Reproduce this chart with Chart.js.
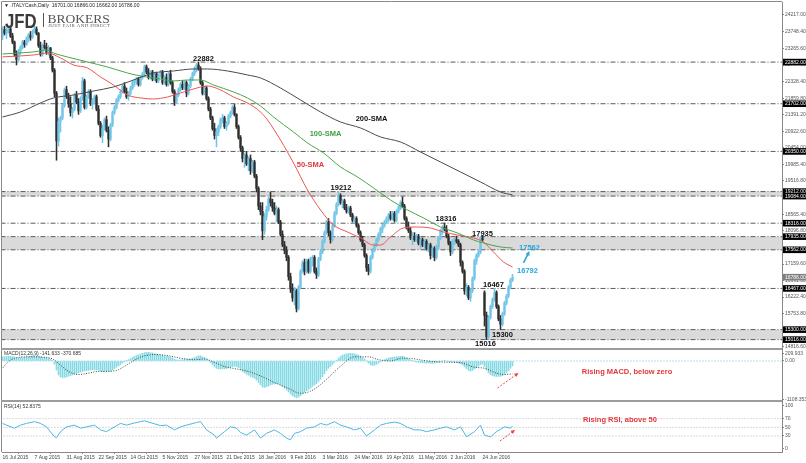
<!DOCTYPE html>
<html><head><meta charset="utf-8">
<script src="https://cdn.jsdelivr.net/npm/chart.js@4.4.1/dist/chart.umd.min.js"></script>
<style>html,body{margin:0;padding:0;background:#fff;overflow:hidden}canvas{display:block}</style>
</head><body><canvas id="c" width="806" height="463"></canvas>
<script>
// ---------- DATA ----------
const dateLabels = ['16 Jul 2015','7 Aug 2015','31 Aug 2015','22 Sep 2015','14 Oct 2015','5 Nov 2015','27 Nov 2015','21 Dec 2015','18 Jan 2016','9 Feb 2016','3 Mar 2016','24 Mar 2016','19 Apr 2016','11 May 2016','2 Jun 2016','24 Jun 2016'];
const dateTickIdx = [0,16,32,48,64,80,96,112,128,144,160,176,192,208,224,240];

const opens = [23600,23800,23700,23780,23820,23620,23450,23100,22950,23200,23300,23450,23380,23550,23650,23580,23750,23820,23700,23350,23100,23350,23300,23150,23280,23000,22650,22000,20650,21200,21300,21650,22100,21900,21700,21450,21550,21950,21750,21500,21850,22350,21600,21900,22050,21700,21800,21900,21550,21150,20800,21000,21250,20950,20700,21100,21450,21600,21800,21900,22050,22200,22050,21900,22000,22150,22300,22350,22400,22250,22450,22550,22750,22600,22450,22600,22400,22550,22350,22500,22600,22300,22450,22250,22550,22300,22050,21750,21950,22100,22250,22150,22300,22000,22200,22400,22550,22700,22800,22700,22300,22000,22150,21850,21550,21300,21000,20800,20900,21050,21250,21300,21050,21150,21350,21450,21600,21400,21050,20750,20450,20150,20250,20000,20150,19800,20050,19650,19300,18800,18650,18100,18500,18700,19000,18900,18750,18600,18700,18350,18000,17700,17550,17350,16800,16450,16200,16400,15900,16500,16950,17200,16950,17250,16950,17300,17350,16950,16850,17300,17500,17800,18050,18350,18050,17850,18250,18600,18850,19100,18900,18950,18750,18650,18750,18550,18400,18450,18250,18050,17850,17700,17400,17050,16950,17350,17550,17700,17850,18000,18150,18250,18350,18450,18550,18450,18600,18400,18650,18750,18900,18800,18450,18200,18100,17900,17950,17850,17950,17750,17850,17700,17800,17600,17700,17400,17600,17350,17650,17900,18100,18200,18150,17950,17750,17500,17800,17850,17800,17700,17200,16950,16400,16500,16200,16400,16750,17250,17400,17500,17900,16350,15700,15100,15650,15950,16150,16350,15950,15600,15450,15750,16050,16250,16500,16701];
const highs = [23880,23900,23850,23900,23870,23700,23480,23200,23250,23350,23500,23500,23600,23700,23750,23800,23900,23880,23720,23450,23400,23500,23420,23350,23300,23050,22700,22050,21300,21350,21700,22150,22200,22000,21900,21600,22000,22050,21850,21900,22450,22400,21950,22100,22100,21850,21950,21950,21650,21200,21100,21300,21350,21050,21150,21500,21650,21850,21950,22100,22250,22300,22150,22050,22200,22350,22400,22450,22450,22500,22600,22800,22800,22700,22650,22650,22600,22600,22550,22650,22650,22500,22550,22600,22650,22350,22100,22000,22150,22300,22350,22350,22350,22250,22450,22600,22750,22850,22882,22750,22350,22200,22200,21900,21600,21350,21150,21000,21100,21300,21400,21350,21200,21400,21500,21650,21680,21420,21100,20800,20500,20300,20350,20200,20250,20100,20100,19700,19350,18900,18900,18600,18800,19050,19200,19000,18900,18800,18750,18400,18100,17800,17650,17400,16900,16600,16500,16450,16550,17000,17250,17300,17300,17300,17350,17400,17400,17050,17350,17550,17850,18100,18400,18450,18100,18300,18650,18900,19212,19150,19000,19000,18850,18800,18800,18600,18500,18500,18300,18100,17950,17750,17450,17150,17400,17600,17750,17900,18050,18200,18300,18400,18500,18600,18650,18650,18650,18700,18800,18950,19060,18850,18500,18350,18200,18050,18050,18000,18000,17900,17900,17850,17850,17750,17750,17650,17650,17700,17950,18150,18250,18320,18250,18000,17800,17850,17900,17950,17850,17750,17250,17000,16600,16550,16450,16800,17300,17450,17550,17935,17950,16400,15800,15700,16000,16200,16467,16400,16000,15700,15800,16100,16300,16550,16750,16866];
const lows = [23520,23650,23550,23700,23580,23400,23050,22800,22900,23100,23250,23300,23350,23450,23500,23550,23700,23650,23300,23050,23050,23250,23100,23080,22950,22600,21900,20100,20500,20900,21250,21600,21850,21600,21350,21300,21500,21700,21400,21450,21800,21550,21550,21850,21650,21550,21700,21500,21100,20750,20600,20950,20900,20480,20650,21050,21400,21550,21750,21850,22000,22000,21850,21800,21950,22100,22200,22250,22200,22200,22400,22500,22550,22400,22400,22350,22350,22300,22300,22450,22250,22250,22200,22200,22250,22000,21650,21700,21900,22050,22100,22100,21900,21950,22150,22350,22500,22600,22650,22250,21950,21950,21800,21500,21250,20950,20700,20480,20800,21000,21150,21000,20950,21100,21300,21400,21350,21000,20700,20350,20050,19900,19950,19800,19700,19750,19600,19200,18700,18550,17850,18000,18400,18650,18800,18650,18550,18350,18300,17950,17650,17450,17250,16700,16350,16100,16000,15800,15850,16450,16900,16850,16900,16900,16900,17100,16900,16750,16800,17250,17450,17750,18000,17950,17750,17800,18200,18550,18800,18850,18750,18700,18600,18600,18500,18350,18300,18200,18000,17800,17650,17350,16950,16850,16900,17300,17500,17650,17800,17950,18050,18200,18300,18350,18400,18400,18350,18350,18600,18700,18750,18400,18150,18050,17850,17700,17800,17800,17700,17600,17650,17600,17550,17500,17300,17350,17250,17300,17600,17850,18000,18100,17900,17700,17400,17450,17700,17750,17650,17100,16900,16300,16250,16150,16100,16350,16700,17150,17350,17450,17800,15400,15016,15050,15600,15900,16100,15900,15550,15300,15400,15700,16000,16200,16450,16662];
const closes = [23800,23700,23780,23820,23620,23450,23100,22950,23200,23300,23450,23380,23550,23650,23580,23750,23820,23700,23350,23100,23350,23300,23150,23280,23000,22650,22000,20650,21200,21300,21650,22100,21900,21700,21450,21550,21950,21750,21500,21850,22350,21600,21900,22050,21700,21800,21900,21550,21150,20800,21000,21250,20950,20700,21100,21450,21600,21800,21900,22050,22200,22050,21900,22000,22150,22300,22350,22400,22250,22450,22550,22750,22600,22450,22600,22400,22550,22350,22500,22600,22300,22450,22250,22550,22300,22050,21750,21950,22100,22250,22150,22300,22000,22200,22400,22550,22700,22800,22700,22300,22000,22150,21850,21550,21300,21000,20800,20900,21050,21250,21300,21050,21150,21350,21450,21600,21400,21050,20750,20450,20150,20250,20000,20150,19800,20050,19650,19300,18800,18650,18100,18500,18700,19000,18900,18750,18600,18700,18350,18000,17700,17550,17350,16800,16450,16200,16400,15900,16500,16950,17200,16950,17250,16950,17300,17350,16950,16850,17300,17500,17800,18050,18350,18050,17850,18250,18600,18850,19100,18900,18950,18750,18650,18750,18550,18400,18450,18250,18050,17850,17700,17400,17050,16950,17350,17550,17700,17850,18000,18150,18250,18350,18450,18550,18450,18600,18400,18650,18750,18900,18800,18450,18200,18100,17900,17950,17850,17950,17750,17850,17700,17800,17600,17700,17400,17600,17350,17650,17900,18100,18200,18150,17950,17750,17500,17800,17850,17800,17700,17200,16950,16400,16500,16200,16400,16750,17250,17400,17500,17900,17850,15700,15100,15650,15950,16150,16350,15950,15600,15450,15750,16050,16250,16500,16701,16786];

const sma50Idx  = [0,15.5,22.5,29,35.5,42.5,49,55.5,62.5,69,75.5,82.5,89,95.5,102.5,109,115.5,122.5,129,132.5,139,145.5,152.5,159,165.5,172.5,179,185.5,189,194,200.5,207.5,214,220.5,227.5,235.5,240.5,245.5,250.5,255];
const sma50     = [23030,23083,23140,22998,22800,22715,22460,22233,21950,21865,21836,21893,22006,22120,22205,22092,21893,21723,21468,21241,20675,20023,19258,18691,18265,18067,17897,17698,17698,17925,18180,18209,18180,18067,17982,17897,17783,17500,17217,17075];
const sma100Idx = [0,15.5,22.5,25.5,32.5,42.5,52.5,62.5,69,79,85.5,92.5,99,105.5,115.5,122.5,129,135.5,145.5,152.5,160.5,169,177.5,185.5,194,202.5,210.5,219,227.5,235.5,240.5,249,255];
const sma100    = [23112,23170,23225,23140,23027,22885,22743,22573,22488,22403,22347,22375,22375,22233,22035,21865,21638,21326,20901,20590,20306,19910,19626,19315,18974,18691,18464,18209,18039,17840,17755,17642,17613];
const sma200Idx = [0,9,19,25.5,35.5,45.5,55.5,65.5,75.5,85.5,95.5,102.5,112.5,122.5,129,139,149,159,169,179,189,199,209,219,229,239,249,255];
const sma200    = [21326,21468,21723,21865,21950,22063,22177,22375,22573,22630,22687,22687,22630,22517,22432,22148,21808,21468,21185,21015,20760,20618,20334,20051,19768,19485,19201,19116];

const macdMain = [120,125,130,135,135,130,115,95,90,95,100,110,120,130,140,150,155,150,140,125,110,100,90,80,60,
 20,-90,-260,
 -400,-460,-480,-475,-460,
 -440,-420,-400,-380,-360,-340,-320,-300,
 -290,-280,-270,-260,-250,-245,-250,-265,
 -285,-300,-300,-290,-300,-290,-260,
 -220,-180,-140,-100,-60,-20,10,
 40,70,100,130,160,180,200,220,240,250,
 250,240,230,215,200,185,175,165,150,135,125,110,85,
 50,30,25,
 35,40,50,55,50,60,80,100,125,150,150,
 120,100,60,10,-50,-110,-170,-210,-230,
 -230,-225,-225,-215,-200,-185,-160,-150,
 -160,-190,-240,-300,-340,-380,-410,-450,-470,-500,-550,-620,-680,
 -750,-760,-740,-720,-690,-670,-660,-650,-660,-690,-730,-780,-830,
 -890,-950,-1000,-1030,-1060,-1040,
 -1000,-950,-900,-860,-820,-780,-730,-690,-650,-590,-520,-450,-370,-280,
 -210,-160,-100,-40,20,80,130,
 170,190,205,215,220,215,205,190,170,140,
 100,55,0,-60,-110,-130,-120,-95,-60,-25,
 10,40,65,85,100,110,115,120,125,135,
 140,120,90,60,30,5,-20,
 -30,-40,-50,-55,-60,-60,-60,-65,-70,-60,-50,-30,-10,
 0,5,0,-10,-30,-35,-35,-40,-50,-80,-110,
 -170,-220,-270,-290,-270,-230,-190,-150,-100,
 -90,-160,-260,-340,-390,-420,-440,-445,-445,-440,-420,-390,-340,-280,-210,-142];
const sigIdx = [0,3,6,12,20,25,29,33,38,43,48,53,58,63,69,76,83,89,96,101,106,111,116,123,129,136,143,149,154,159,164,169,176,183,188,194,200,205,210,219,229,236,241,247,251,255];
const macdSignal = [-205,-20,75,120,110,60,-120,-300,-390,-350,-300,-300,-250,-80,110,186,150,80,40,60,-40,-160,-220,-300,-430,-620,-790,-930,-870,-680,-420,-150,120,120,40,0,80,70,20,-30,-50,-180,-210,-350,-390,-371];

const rsiIdx = [0,2,6,9,12,16,19,22,26,27,29,32,36,39,42,46,49,52,56,59,62,66,69,71,76,79,82,86,89,92,97,99,102,106,107,111,114,117,119,122,126,129,132,136,139,142,144,146,149,152,156,159,162,166,169,172,176,179,182,186,189,192,196,199,202,206,209,212,216,219,222,226,229,232,236,239,241,244,247,251,254,255];
const rsiVals = [59,55,48,55,59,63,59,51,28,26,40,51,55,48,51,55,44,40,51,59,55,60,63,65,58,54,55,44,51,55,61,63,44,32,25,40,51,48,38,32,44,25,36,44,36,25,21,36,40,48,51,59,55,63,55,51,44,48,30,44,55,59,62,59,51,44,44,40,44,48,51,44,51,28,40,55,32,28,40,51,48,52.8];

const priceTicks = [24217.00,23748.40,23265.60,22797.00,22328.40,21859.80,21391.20,20922.60,20454.00,19985.40,19516.80,18565.40,18096.80,17159.60,16691.00,16222.40,15753.80,14816.60];
const macdTicks = [209.933, 0, -1108.353];
const macdTickLabels = ['209.933','0.00','-1108.353'];
const rsiTicks = [100,70,50,30,0];
const rsiLevels = [70,50,30];
const levelValues = [22882,21702,20350,19212,19084,18316,17935,17562,16467,15300,15016];
const bandPairs = [[19084,19212],[17562,17935],[15016,15300]];
const lastPrice = 16786;

// ---------- ANNOTATION CONFIG (positions in data units) ----------
const priceNotes = [
  {t:'22882', i:100.5, v:22970, c:'#111'},
  {t:'200-SMA', i:184.5, v:21270, c:'#111'},
  {t:'100-SMA', i:161.5, v:20845, c:'#3f9f3f'},
  {t:'50-SMA', i:154, v:19966, c:'#e0393e'},
  {t:'19212', i:169.25, v:19314, c:'#111'},
  {t:'18316', i:221.75, v:18436, c:'#111'},
  {t:'17935', i:240, v:18010, c:'#111'},
  {t:'17562', i:263.5, v:17628, c:'#2aa5de'},
  {t:'16792', i:262.5, v:16962, c:'#2aa5de'},
  {t:'16467', i:245.5, v:16565, c:'#111'},
  {t:'15300', i:250, v:15162, c:'#111'},
  {t:'15016', i:241.5, v:14907, c:'#111'}
];
const blueArrow = {i1:260.5, v1:17189, i2:263.5, v2:17529};
const macdNote = {t:'Rising MACD, below zero', i:312.25, v:-317};
const macdArrow = {i1:247.5, v1:-778, i2:258, v2:-346};
const rsiNote = {t:'Rising RSI, above 50', i:308.75, v:67};
const rsiArrow = {i1:248.75, v1:18.4, i2:256.25, v2:43.8};

// ---------- CHART ----------
const fam = '"Liberation Sans", Arial, Helvetica, sans-serif';
const bull = '#70c5e8', bear = '#2e2e2e';
const candleColors = closes.map((c,i)=> c >= opens[i] ? bull : bear);

const datasets = [];
levelValues.forEach(v => datasets.push({type:'line', xAxisID:'x', yAxisID:'y', data:[{x:-1,y:v},{x:391,y:v}], borderColor:'#5a5a5a', borderWidth:1, borderDash:[5,2,1,2], pointRadius:0, order:9}));
datasets.push({type:'bar', xAxisID:'x', yAxisID:'y', data: highs.map((h,i)=>({x:i, y:[lows[i], h]})), backgroundColor: candleColors, barThickness:0.9, grouped:false, order:8});
datasets.push({type:'bar', xAxisID:'x', yAxisID:'y', data: opens.map((o,i)=>({x:i, y:[o, closes[i]]})), backgroundColor: candleColors, barThickness:1.6, minBarLength:1, grouped:false, order:7});
const smaDs = (idx, vals, color) => ({type:'line', xAxisID:'x', yAxisID:'y', data: idx.map((x,k)=>({x, y: vals[k]})), borderColor: color, borderWidth:1, pointRadius:0, cubicInterpolationMode:'monotone', order:3});
datasets.push(smaDs(sma200Idx, sma200, '#4a4a4a'));
datasets.push(smaDs(sma100Idx, sma100, '#4aa64a'));
datasets.push(smaDs(sma50Idx, sma50, '#ee5555'));
// MACD
datasets.push({type:'line', xAxisID:'x', yAxisID:'macd', data:[{x:-1,y:0},{x:391,y:0}], borderColor:'#5fc3da', borderWidth:1, borderDash:[1,2], pointRadius:0, order:9});
datasets.push({type:'bar', xAxisID:'x', yAxisID:'macd', data: macdMain.map((v,i)=>({x:i, y:v})), backgroundColor:'#86dae4', barThickness:1, grouped:false, order:5});
datasets.push({type:'line', xAxisID:'x', yAxisID:'macd', data: sigIdx.map((x,k)=>({x, y: macdSignal[k]})), borderColor:'#444', borderWidth:1, borderDash:[1,1.5], pointRadius:0, cubicInterpolationMode:'monotone', order:2});
// RSI
rsiLevels.forEach(v => datasets.push({type:'line', xAxisID:'x', yAxisID:'rsi', data:[{x:-1,y:v},{x:391,y:v}], borderColor:'#b5b5b5', borderWidth:1, borderDash:[1,2], pointRadius:0, order:9}));
datasets.push({type:'line', xAxisID:'x', yAxisID:'rsi', data: rsiIdx.map((x,k)=>({x, y: rsiVals[k]})), borderColor:'#4db8de', borderWidth:1, pointRadius:0, tension:0, order:2});

const tickFont = {family: fam, size: 5};
function yAxis(min, max, weight, tickVals, cb){
  return {
    type:'linear', position:'right', stack:'panes', stackWeight: weight, min, max, offset:false,
    grid:{display:true, drawOnChartArea:false, drawTicks:true, tickLength:2, color:'#888'},
    border:{display:true, color:'#888'},
    ticks:{font:tickFont, color:'#555', padding:1, autoSkip:false, maxRotation:0, callback: cb},
    afterBuildTicks(s){ s.ticks = tickVals.map(v=>({value:v})); },
    afterFit(s){ s.width = 24; s.paddingTop = 0; s.paddingBottom = 0; }
  };
}

function arrow(ctx, x1, y1, x2, y2, color, w, dash, head){
  const a = Math.atan2(y2-y1, x2-x1);
  ctx.save();
  ctx.strokeStyle = color; ctx.fillStyle = color; ctx.lineWidth = w;
  ctx.setLineDash(dash);
  ctx.beginPath(); ctx.moveTo(x1,y1); ctx.lineTo(x2 - head*0.7*Math.cos(a), y2 - head*0.7*Math.sin(a)); ctx.stroke();
  ctx.setLineDash([]);
  ctx.beginPath(); ctx.moveTo(x2,y2);
  ctx.lineTo(x2 - head*Math.cos(a-0.45), y2 - head*Math.sin(a-0.45));
  ctx.lineTo(x2 - head*Math.cos(a+0.45), y2 - head*Math.sin(a+0.45));
  ctx.closePath(); ctx.fill();
  ctx.restore();
}

const overlay = {
  id:'overlay',
  beforeDatasetsDraw(chart){
    const {ctx, scales:{x, y}} = chart;
    ctx.save();
    ctx.fillStyle = '#dadada';
    bandPairs.forEach(([a,b]) => {
      const y1 = y.getPixelForValue(b), y2 = y.getPixelForValue(a);
      ctx.fillRect(x.left, y1, x.right - x.left, y2 - y1);
    });
    ctx.restore();
  },
  afterDraw(chart){
    const {ctx, chartArea:ca, scales} = chart;
    const X = scales.x, Y = scales.y, M = scales.macd, R = scales.rsi;
    ctx.save();
    // frame and separators
    ctx.strokeStyle = '#8a8a8a'; ctx.lineWidth = 1;
    ctx.beginPath();
    ctx.moveTo(ca.left - 0.5, ca.top - 0.5); ctx.lineTo(ca.right, ca.top - 0.5);
    ctx.moveTo(ca.left - 0.5, ca.top - 0.5); ctx.lineTo(ca.left - 0.5, ca.bottom);
    ctx.stroke();
    ctx.fillStyle = '#9c9c9c';
    ctx.fillRect(ca.left - 1, Y.bottom, ca.right - ca.left + 1, 2);
    ctx.fillRect(ca.left - 1, M.bottom, ca.right - ca.left + 1, 2);

    // title
    ctx.fillStyle = '#222'; ctx.font = `5px ${fam}`; ctx.textAlign = 'left'; ctx.textBaseline = 'middle';
    ctx.fillText('\u25BC .ITALYCash,Daily  16701.00 16866.00 16662.00 16786.00', 4, 5.5);
    // panel labels
    ctx.fillStyle = '#333';
    ctx.fillText('MACD(12,26,9) -141.633 -370.685', 4, M.top + 6);
    ctx.fillText('RSI(14) 52.8375', 4, R.top + 7);

    // logo
    ctx.save();
    ctx.fillStyle = '#3a3a3a'; ctx.font = `bold 21px ${fam}`; ctx.textBaseline = 'alphabetic';
    ctx.translate(5, 27.5); ctx.scale(0.8, 1); ctx.fillText('JFD', 0, 0);
    ctx.restore();
    ctx.fillStyle = '#555'; ctx.fillRect(43, 13, 1, 14);
    ctx.font = `13.5px "Liberation Serif", "Times New Roman", serif`; ctx.textBaseline = 'alphabetic';
    ctx.fillText('BROKERS', 47.5, 22.5);
    ctx.save();
    ctx.font = `4px "Liberation Serif", serif`;
    const tag = 'JUST FAIR AND DIRECT';
    const spaced = tag.split('').join('\u200A');
    const w = ctx.measureText(spaced).width;
    ctx.translate(48, 27); ctx.scale(62 / w, 1); ctx.fillText(spaced, 0, 0);
    ctx.restore();

    // price notes
    ctx.textAlign = 'center'; ctx.textBaseline = 'middle';
    ctx.font = `bold 7.5px ${fam}`;
    priceNotes.forEach(n => { ctx.fillStyle = n.c; ctx.fillText(n.t, X.getPixelForValue(n.i), Y.getPixelForValue(n.v)); });
    arrow(ctx, X.getPixelForValue(blueArrow.i1), Y.getPixelForValue(blueArrow.v1), X.getPixelForValue(blueArrow.i2), Y.getPixelForValue(blueArrow.v2), '#2aa5de', 1.6, [], 5);

    ctx.fillStyle = '#e0393e'; ctx.font = `bold 7.5px ${fam}`;
    ctx.fillText(macdNote.t, X.getPixelForValue(macdNote.i), M.getPixelForValue(macdNote.v));
    ctx.fillText(rsiNote.t, X.getPixelForValue(rsiNote.i), R.getPixelForValue(rsiNote.v));
    arrow(ctx, X.getPixelForValue(macdArrow.i1), M.getPixelForValue(macdArrow.v1), X.getPixelForValue(macdArrow.i2), M.getPixelForValue(macdArrow.v2), '#e8453f', 1, [2,1.5], 4.5);
    arrow(ctx, X.getPixelForValue(rsiArrow.i1), R.getPixelForValue(rsiArrow.v1), X.getPixelForValue(rsiArrow.i2), R.getPixelForValue(rsiArrow.v2), '#e8453f', 1, [2,1.5], 4.5);

    // axis boxes
    ctx.textAlign = 'left'; ctx.font = `5px ${fam}`;
    const box = (v, bg) => {
      const yy = Y.getPixelForValue(v);
      ctx.fillStyle = bg; ctx.fillRect(ca.right + 1, yy - 3.3, 24, 6.6);
      ctx.fillStyle = '#fff'; ctx.fillText(v.toFixed(2), ca.right + 3, yy + 0.3);
    };
    levelValues.forEach(v => box(v, '#000'));
    box(lastPrice, '#808080');
    ctx.restore();
  }
};

new Chart(document.getElementById('c'), {
  type:'bar',
  data:{datasets},
  options:{
    responsive:false, animation:false, events:[],
    layout:{padding:{left:2, top:2, right:0, bottom:0}},
    plugins:{legend:{display:false}, tooltip:{enabled:false}},
    scales:{
      x:{
        type:'linear', position:'bottom', min:-0.25, max:389.75, offset:false,
        grid:{display:true, drawOnChartArea:false, drawTicks:true, tickLength:2, color:'#888'},
        border:{display:true, color:'#888'},
        ticks:{font:tickFont, color:'#444', align:'start', padding:0.5, autoSkip:false, maxRotation:0, minRotation:0,
               callback:(v, i) => dateLabels[i]},
        afterBuildTicks(s){ s.ticks = dateTickIdx.map(v=>({value:v})); },
        afterFit(s){ s.height = 11; s.paddingLeft = 0; s.paddingRight = 0; }
      },
      y: yAxis(14779, 24585, 346, priceTicks, v => Number(v).toFixed(2)),
      macd: yAxis(-1123, 374, 52, macdTicks, (v, i) => macdTickLabels[i]),
      rsi: yAxis(-7, 113, 52, rsiTicks, v => String(v))
    }
  },
  plugins:[overlay]
});
</script>
</body></html>
